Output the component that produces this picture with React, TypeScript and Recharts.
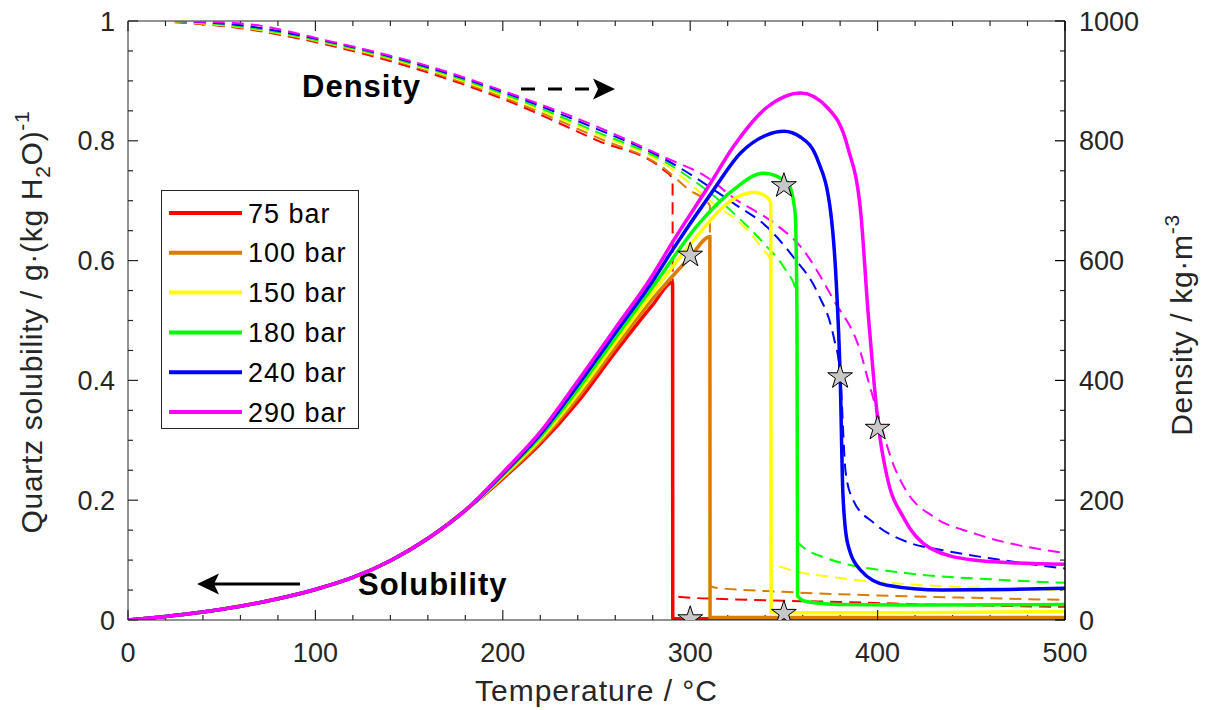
import React from 'react';
import {
  ComposedChart,
  Line,
  Scatter,
  XAxis,
  YAxis,
  ZAxis,
  ReferenceLine,
  Customized,
} from 'recharts';

const FONT = '"Liberation Sans", Arial, Helvetica, sans-serif';
const INK = '#262626';

const PRESSURES = ['75 bar', '100 bar', '150 bar', '180 bar', '240 bar', '290 bar'];
const COLORS = ['#ff0000', '#d97d00', '#ffff00', '#00ff00', '#0000ff', '#ff00ff'];

// 溶解度 低温段（各压力几乎重合）
const SOL_T_LOW = [0, 20, 40, 60, 80, 100, 120, 140, 160, 180];
const SOL_LOW = [0, 0.006, 0.0135, 0.023, 0.0355, 0.051, 0.071, 0.099, 0.136, 0.183];

// 溶解度 高温段
const SOL_T_75 = [200, 220, 240, 260, 280, 290.6, 290.7, 320, 400, 500];
const SOL_75 = [0.236, 0.294, 0.364, 0.447, 0.526, 0.564, 0.002, 0.002, 0.002, 0.002];
const SOL_T_100 = [200, 220, 240, 260, 280, 300, 310.5, 310.6, 350, 400, 500];
const SOL_100 = [0.238, 0.298, 0.371, 0.455, 0.536, 0.606, 0.64, 0.004, 0.004, 0.004, 0.004];
const SOL_T_150 = [200, 220, 240, 260, 280, 305, 320, 334, 341, 343, 343.2, 350, 400, 450, 500];
const SOL_150 = [0.24, 0.302, 0.378, 0.463, 0.546, 0.646, 0.696, 0.714, 0.706, 0.696, 0.013, 0.012, 0.012, 0.013, 0.014];
const SOL_T_180 = [200, 220, 240, 260, 280, 305, 323, 339, 352, 356, 357, 357.3, 362, 380, 420, 500];
const SOL_180 = [0.242, 0.306, 0.385, 0.471, 0.556, 0.663, 0.718, 0.746, 0.73, 0.68, 0.5, 0.04, 0.031, 0.026, 0.025, 0.026];
const SOL_T_240 = [200, 220, 240, 260, 280, 290, 312, 327, 341, 350, 359, 368, 375, 378, 380, 381.5, 384, 391, 405, 434, 470, 500];
const SOL_240 = [0.244, 0.31, 0.392, 0.479, 0.566, 0.615, 0.716, 0.78, 0.81, 0.816, 0.806, 0.768, 0.68, 0.56, 0.41, 0.21, 0.128, 0.083, 0.058, 0.05, 0.051, 0.053];
const SOL_T_290 = [200, 220, 240, 260, 280, 290, 311, 323, 341, 359, 373, 384, 391, 395, 398, 400.6, 405, 414, 428, 451, 475, 500];
const SOL_290 = [0.246, 0.314, 0.399, 0.487, 0.576, 0.628, 0.73, 0.79, 0.856, 0.88, 0.856, 0.79, 0.68, 0.51, 0.4, 0.32, 0.24, 0.17, 0.12, 0.1, 0.095, 0.093];

// 密度 kg/m3
const RHO_T_75 = [25, 60, 108, 161, 204, 250, 286, 290.6, 290.7, 296.5, 318, 380, 440, 500];
const RHO_75 = [998, 988, 959, 913, 865, 801, 751, 736, 40, 38, 35, 30, 25, 22];
const RHO_T_100 = [25, 60, 108, 161, 204, 250, 286, 298.6, 310.5, 310.6, 313.6, 350, 400, 450, 500];
const RHO_100 = [999, 989, 961, 916, 868, 806, 754, 720, 692, 57, 54, 47, 41, 37, 33.5];
const RHO_T_150 = [25, 60, 108, 161, 204, 250, 286, 314.6, 327, 339, 342.9, 343, 348, 380, 420, 460, 500];
const RHO_150 = [999, 990, 962, 918, 871, 811, 762, 690, 662, 618, 600, 97, 89, 70, 59, 53, 50];
const RHO_T_180 = [25, 60, 108, 161, 204, 250, 286, 327, 341, 350, 356.9, 357, 373, 416, 460, 500];
const RHO_180 = [1000, 991, 963, 920, 874, 815, 766, 668, 623, 589, 545, 131, 103, 78, 68, 62];
const RHO_T_240 = [25, 60, 108, 161, 204, 250, 286, 323, 341, 355, 368, 376.6, 380, 383, 387, 398, 416, 434, 460, 500];
const RHO_240 = [1000, 993, 965, 922, 877, 820, 770, 696, 656, 606, 546, 472, 412, 245, 200, 162, 130, 117, 103, 86];
const RHO_T_290 = [25, 60, 108, 161, 204, 250, 286, 311, 323, 344.5, 359, 376.6, 391, 395, 398, 409, 416, 430, 451, 475, 500];
const RHO_290 = [1000, 996, 966, 924, 879, 824, 773, 735, 705, 663, 623, 534, 446, 400, 367, 255, 212, 172, 145, 125, 112];

// 星号标记
const STAR_T = [300, 300, 350, 350, 380, 400];
const STAR_S = [0.609, 0.002, 0.725, 0.011, 0.406, 0.32];

const X_TICKS = [0, 100, 200, 300, 400, 500];
const S_TICKS = [0, 0.2, 0.4, 0.6, 0.8, 1];
const RHO_TICKS = [0, 200, 400, 600, 800, 1000];
const X_MINOR = [20, 40, 60, 80, 120, 140, 160, 180, 220, 240, 260, 280, 320, 340, 360, 380, 420, 440, 460, 480];
const S_MINOR = [0.05, 0.1, 0.15, 0.25, 0.3, 0.35, 0.45, 0.5, 0.55, 0.65, 0.7, 0.75, 0.85, 0.9, 0.95];
const RHO_MINOR = [50, 100, 150, 250, 300, 350, 450, 500, 550, 650, 700, 750, 850, 900, 950];

const zip = (ts: number[], vs: number[]) => ts.map((t, i) => ({ t, v: vs[i] }));
const lowPart = zip(SOL_T_LOW, SOL_LOW);

const SOLUBILITY = [
  [...lowPart, ...zip(SOL_T_75, SOL_75)],
  [...lowPart, ...zip(SOL_T_100, SOL_100)],
  [...lowPart, ...zip(SOL_T_150, SOL_150)],
  [...lowPart, ...zip(SOL_T_180, SOL_180)],
  [...lowPart, ...zip(SOL_T_240, SOL_240)],
  [...lowPart, ...zip(SOL_T_290, SOL_290)],
];
const DENSITY = [
  zip(RHO_T_75, RHO_75),
  zip(RHO_T_100, RHO_100),
  zip(RHO_T_150, RHO_150),
  zip(RHO_T_180, RHO_180),
  zip(RHO_T_240, RHO_240),
  zip(RHO_T_290, RHO_290),
];
const STARS = zip(STAR_T, STAR_S);

// 绘图区（与 margin / 轴宽一致）
const W = 1207;
const H = 710;
const MARGIN = { top: 21, right: 62, bottom: 30, left: 0 };
const Y_LEFT_W = 128;
const Y_RIGHT_W = 80;
const X_H = 60;
const PL = MARGIN.left + Y_LEFT_W;
const PR = W - MARGIN.right - Y_RIGHT_W;
const PT = MARGIN.top;
const PB = H - MARGIN.bottom - X_H;
const px = (t: number) => PL + (t / 500) * (PR - PL);
const pyS = (s: number) => PB - s * (PB - PT);
const pyD = (d: number) => PB - (d / 1000) * (PB - PT);

// 次刻度 + 顶部刻度（主刻度由坐标轴自身画，朝内）
function TickMarks() {
  const v = (k: string, x: number, y: number, len: number) => (
    <line key={k} x1={x} x2={x} y1={y} y2={y + len} stroke={INK} strokeWidth={1.2} />
  );
  const h = (k: string, x: number, y: number, len: number) => (
    <line key={k} x1={x} x2={x + len} y1={y} y2={y} stroke={INK} strokeWidth={1.2} />
  );
  return (
    <g>
      {X_TICKS.map(t => v('xt' + t, px(t), PT, 10))}
      {X_MINOR.map(t => v('mb' + t, px(t), PB, -5))}
      {X_MINOR.map(t => v('mt' + t, px(t), PT, 5))}
      {S_MINOR.map((s, i) => h('ml' + i, PL, pyS(s), 5))}
      {RHO_MINOR.map(d => h('mr' + d, PR, pyD(d), -5))}
    </g>
  );
}

function Overlay() {
  return (
    <g fontFamily={FONT}>
      <TickMarks />

      {/* 图例 */}
      <rect x={161.5} y={190.5} width={197} height={238} fill="#fff" stroke={INK} strokeWidth={1} />
      {PRESSURES.map((p, i) => {
        const y = 213 + i * 39.8;
        return (
          <g key={p}>
            <line x1={169} x2={242} y1={y} y2={y} stroke={COLORS[i]} strokeWidth={4} />
            <text x={248} y={y + 9.5} fontSize={27} letterSpacing={1} fill="#000">
              {p}
            </text>
          </g>
        );
      })}

      {/* 注释 */}
      <text x={302} y={97} fontSize={31} fontWeight="bold" letterSpacing={1} fill="#000">
        Density
      </text>
      <line x1={521} x2={594} y1={89} y2={89} stroke="#000" strokeWidth={3} strokeDasharray="14 13" />
      <path d="M615,89 L593,78.5 L598,89 L593,99.5 Z" fill="#000" />
      <text x={358} y={595} fontSize={31} fontWeight="bold" letterSpacing={1} fill="#000">
        Solubility
      </text>
      <line x1={300} x2={212} y1={584} y2={584} stroke="#000" strokeWidth={3} />
      <path d="M197,584 L219,573.5 L214,584 L219,594.5 Z" fill="#000" />

      {/* 轴标题 */}
      <text x={596.5} y={701} textAnchor="middle" fontSize={30} letterSpacing={1} fill={INK}>
        Temperature / °C
      </text>
      <text transform="translate(42,322) rotate(-90)" textAnchor="middle" fontSize={30} letterSpacing={0.7} fill={INK}>
        Quartz solubility / g·(kg H
        <tspan dy={8} fontSize={21}>2</tspan>
        <tspan dy={-8}>O)</tspan>
        <tspan dy={-13} fontSize={21}>-1</tspan>
      </text>
      <text transform="translate(1192,325) rotate(-90)" textAnchor="middle" fontSize={30} letterSpacing={0.7} fill={INK}>
        Density / kg·m
        <tspan dy={-13} fontSize={21}>-3</tspan>
      </text>
    </g>
  );
}

export default function App() {
  const tickStyle = { fontSize: 27, fill: INK, fontFamily: FONT };
  return (
    <div style={{ position: 'absolute', left: 0, top: 0, width: W, height: H, background: '#fff' }}>
      <ComposedChart width={W} height={H} margin={MARGIN}>
        <XAxis
          xAxisId="b"
          type="number"
          dataKey="t"
          domain={[0, 500]}
          ticks={X_TICKS}
          allowDataOverflow
          height={X_H}
          tickLine={{ stroke: INK, strokeWidth: 1.2 }}
          tickSize={-10}
          tickMargin={33}
          axisLine={{ stroke: INK, strokeWidth: 1 }}
          tick={tickStyle}
        />
        <YAxis
          yAxisId="s"
          type="number"
          domain={[0, 1]}
          ticks={S_TICKS}
          allowDataOverflow
          width={Y_LEFT_W}
          tickLine={{ stroke: INK, strokeWidth: 1.2 }}
          tickSize={-10}
          tickMargin={23}
          tickFormatter={(v: number) => String(v)}
          axisLine={{ stroke: INK, strokeWidth: 1 }}
          tick={tickStyle}
        />
        <YAxis
          yAxisId="d"
          orientation="right"
          type="number"
          domain={[0, 1000]}
          ticks={RHO_TICKS}
          allowDataOverflow
          width={Y_RIGHT_W}
          tickLine={{ stroke: '#000', strokeWidth: 1.2 }}
          tickSize={-10}
          tickMargin={24}
          axisLine={{ stroke: '#000', strokeWidth: 1.5 }}
          tick={tickStyle}
        />
        <ZAxis range={[190, 190]} />

        {/* 顶部边框 */}
        <ReferenceLine xAxisId="b" yAxisId="s" y={1} stroke={INK} strokeWidth={1} ifOverflow="visible" />

        {/* 密度 虚线 */}
        {DENSITY.map((data, i) => (
          <Line
            key={'rho' + i}
            xAxisId="b"
            yAxisId="d"
            data={data}
            dataKey="v"
            type="monotone"
            stroke={COLORS[i]}
            strokeWidth={2}
            strokeDasharray="12 7"
            dot={false}
            activeDot={false}
            isAnimationActive={false}
          />
        ))}

        {/* 溶解度 实线 */}
        {SOLUBILITY.map((data, i) => (
          <Line
            key={'sol' + i}
            xAxisId="b"
            yAxisId="s"
            data={data}
            dataKey="v"
            type="monotone"
            stroke={COLORS[i]}
            strokeWidth={3.5}
            dot={false}
            activeDot={false}
            isAnimationActive={false}
          />
        ))}

        <Scatter
          xAxisId="b"
          yAxisId="s"
          data={STARS}
          dataKey="v"
          shape="star"
          fill="#c8c8c8"
          stroke="#000"
          strokeWidth={1}
          isAnimationActive={false}
        />

        <Customized component={<Overlay />} />
      </ComposedChart>
    </div>
  );
}
